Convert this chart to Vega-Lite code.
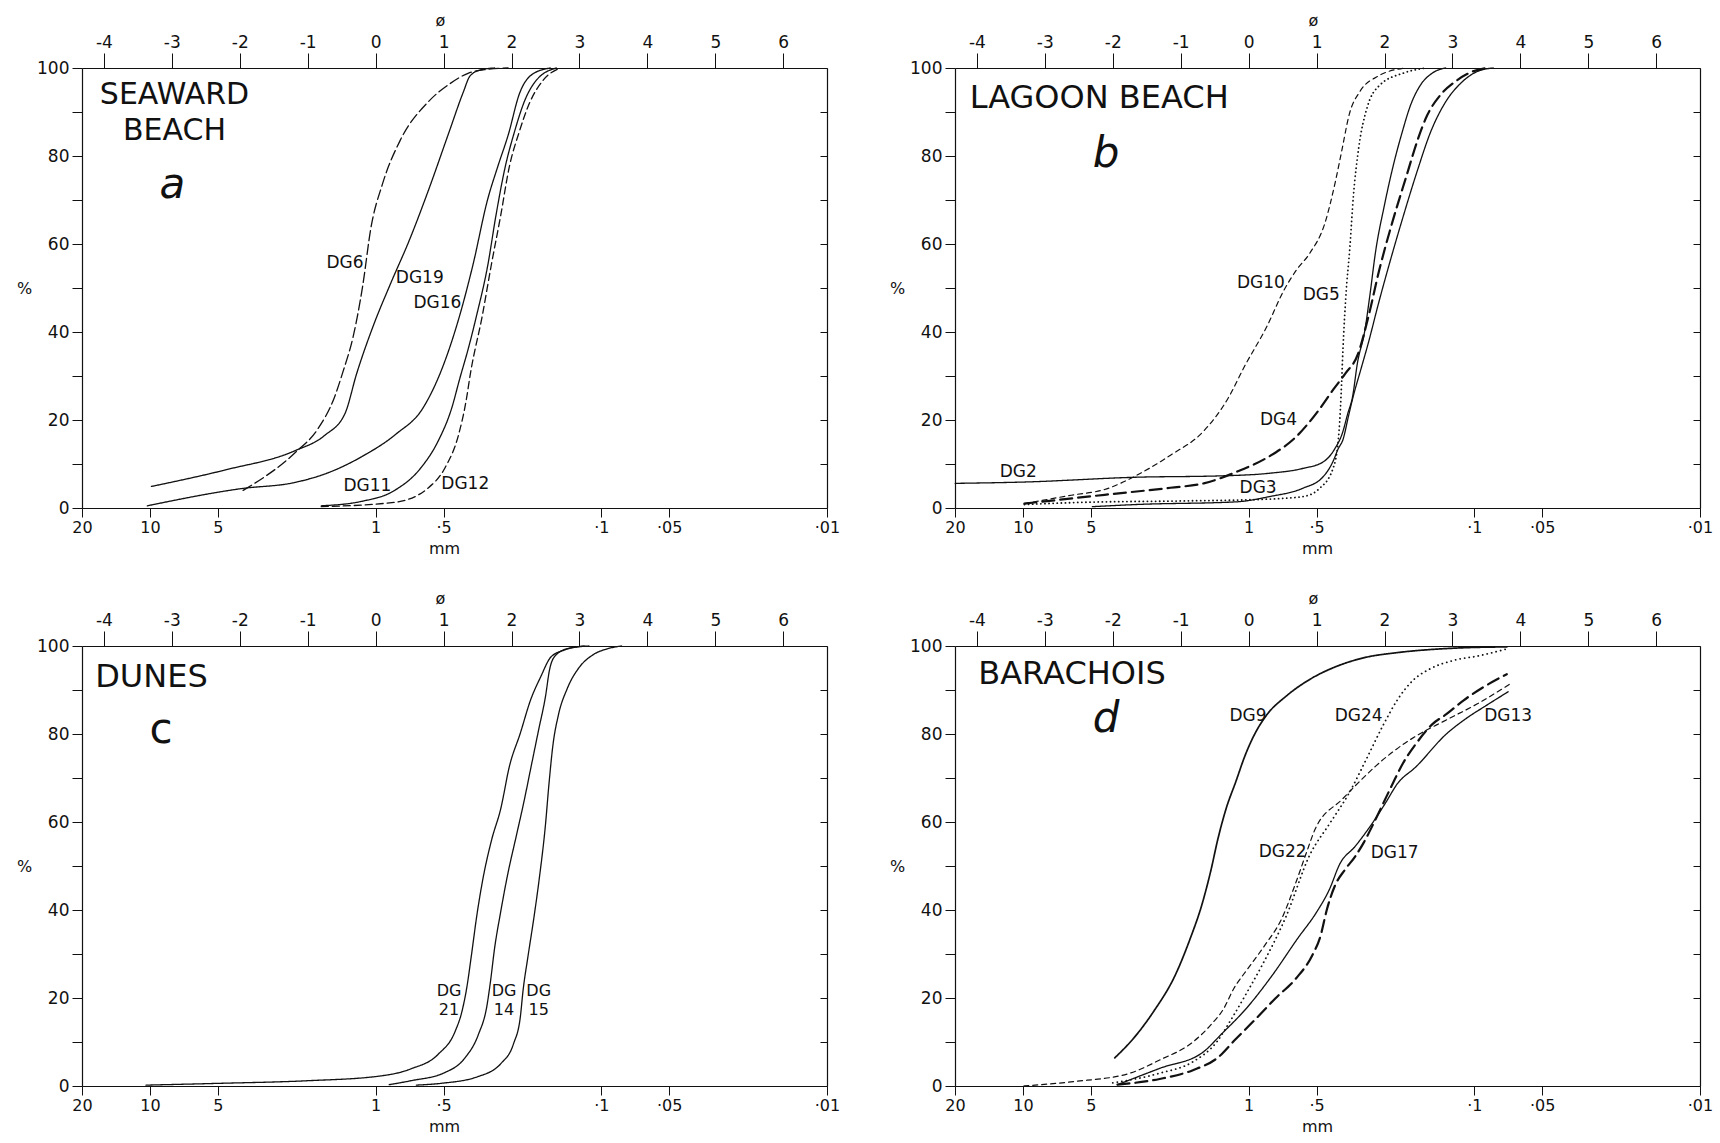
{
"$schema": "https://vega.github.io/schema/vega-lite/v6.json",
"background": "white",
"padding": {"left": 16, "top": 12, "right": 0, "bottom": 0},
"datasets": {
"curves": [
{"p":"a","s":"DG6","phi":-1.95,"pct":4.0},{"p":"a","s":"DG6","phi":-1.19,"pct":12.5},{"p":"a","s":"DG6","phi":-0.85,"pct":18},{"p":"a","s":"DG6","phi":-0.61,"pct":25},{"p":"a","s":"DG6","phi":-0.48,"pct":31},{"p":"a","s":"DG6","phi":-0.33,"pct":39},{"p":"a","s":"DG6","phi":-0.19,"pct":50.5},{"p":"a","s":"DG6","phi":-0.07,"pct":63.6},{"p":"a","s":"DG6","phi":0.10,"pct":73.6},{"p":"a","s":"DG6","phi":0.36,"pct":83.5},{"p":"a","s":"DG6","phi":0.78,"pct":92.4},{"p":"a","s":"DG6","phi":1.1,"pct":96.5},{"p":"a","s":"DG6","phi":1.36,"pct":98.8},{"p":"a","s":"DG6","phi":1.65,"pct":99.7},{"p":"a","s":"DG6","phi":1.95,"pct":100},
{"p":"a","s":"DG19","phi":-3.30,"pct":4.9},{"p":"a","s":"DG19","phi":-2.2,"pct":8.7},{"p":"a","s":"DG19","phi":-1.19,"pct":13.0},{"p":"a","s":"DG19","phi":-0.75,"pct":16.5},{"p":"a","s":"DG19","phi":-0.45,"pct":21.5},{"p":"a","s":"DG19","phi":-0.28,"pct":30.5},{"p":"a","s":"DG19","phi":-0.02,"pct":42},{"p":"a","s":"DG19","phi":0.22,"pct":51},{"p":"a","s":"DG19","phi":0.50,"pct":61},{"p":"a","s":"DG19","phi":0.77,"pct":71.9},{"p":"a","s":"DG19","phi":1.08,"pct":85.4},{"p":"a","s":"DG19","phi":1.29,"pct":94.5},{"p":"a","s":"DG19","phi":1.39,"pct":98.2},{"p":"a","s":"DG19","phi":1.55,"pct":99.6},{"p":"a","s":"DG19","phi":1.75,"pct":100},
{"p":"a","s":"DG16","phi":-3.36,"pct":0.5},{"p":"a","s":"DG16","phi":-1.98,"pct":4.4},{"p":"a","s":"DG16","phi":-1.19,"pct":5.8},{"p":"a","s":"DG16","phi":-0.70,"pct":8.0},{"p":"a","s":"DG16","phi":-0.20,"pct":11.7},{"p":"a","s":"DG16","phi":0.30,"pct":16.8},{"p":"a","s":"DG16","phi":0.70,"pct":22.8},{"p":"a","s":"DG16","phi":0.96,"pct":31},{"p":"a","s":"DG16","phi":1.24,"pct":43.9},{"p":"a","s":"DG16","phi":1.43,"pct":55.1},{"p":"a","s":"DG16","phi":1.65,"pct":70.2},{"p":"a","s":"DG16","phi":1.80,"pct":77.7},{"p":"a","s":"DG16","phi":1.95,"pct":84.7},{"p":"a","s":"DG16","phi":2.12,"pct":94.3},{"p":"a","s":"DG16","phi":2.3,"pct":98.5},{"p":"a","s":"DG16","phi":2.57,"pct":100},
{"p":"a","s":"DG11","phi":-0.80,"pct":0.5},{"p":"a","s":"DG11","phi":-0.21,"pct":1.5},{"p":"a","s":"DG11","phi":0.28,"pct":4.0},{"p":"a","s":"DG11","phi":0.67,"pct":9.2},{"p":"a","s":"DG11","phi":0.92,"pct":15.2},{"p":"a","s":"DG11","phi":1.12,"pct":22.7},{"p":"a","s":"DG11","phi":1.24,"pct":29.5},{"p":"a","s":"DG11","phi":1.36,"pct":36},{"p":"a","s":"DG11","phi":1.49,"pct":44},{"p":"a","s":"DG11","phi":1.65,"pct":55.1},{"p":"a","s":"DG11","phi":1.77,"pct":66.4},{"p":"a","s":"DG11","phi":1.91,"pct":77.7},{"p":"a","s":"DG11","phi":2.04,"pct":85.3},{"p":"a","s":"DG11","phi":2.2,"pct":92.8},{"p":"a","s":"DG11","phi":2.37,"pct":97.3},{"p":"a","s":"DG11","phi":2.66,"pct":100},
{"p":"a","s":"DG12","phi":-0.80,"pct":0.3},{"p":"a","s":"DG12","phi":0.28,"pct":1.3},{"p":"a","s":"DG12","phi":0.77,"pct":4.5},{"p":"a","s":"DG12","phi":1.02,"pct":9.1},{"p":"a","s":"DG12","phi":1.22,"pct":16.6},{"p":"a","s":"DG12","phi":1.33,"pct":24.2},{"p":"a","s":"DG12","phi":1.40,"pct":31},{"p":"a","s":"DG12","phi":1.57,"pct":43.7},{"p":"a","s":"DG12","phi":1.70,"pct":55},{"p":"a","s":"DG12","phi":1.84,"pct":66.4},{"p":"a","s":"DG12","phi":1.97,"pct":77.7},{"p":"a","s":"DG12","phi":2.11,"pct":85.3},{"p":"a","s":"DG12","phi":2.27,"pct":92.2},{"p":"a","s":"DG12","phi":2.47,"pct":97.3},{"p":"a","s":"DG12","phi":2.72,"pct":100},
{"p":"b","s":"DG2","phi":-4.32,"pct":5.6},{"p":"b","s":"DG2","phi":-3.31,"pct":5.9},{"p":"b","s":"DG2","phi":-1.64,"pct":7.0},{"p":"b","s":"DG2","phi":-0.42,"pct":7.3},{"p":"b","s":"DG2","phi":0.31,"pct":7.9},{"p":"b","s":"DG2","phi":0.80,"pct":9.0},{"p":"b","s":"DG2","phi":1.10,"pct":10.5},{"p":"b","s":"DG2","phi":1.27,"pct":13.5},{"p":"b","s":"DG2","phi":1.38,"pct":17},{"p":"b","s":"DG2","phi":1.46,"pct":21.5},{"p":"b","s":"DG2","phi":1.53,"pct":25.3},{"p":"b","s":"DG2","phi":1.60,"pct":32.8},{"p":"b","s":"DG2","phi":1.71,"pct":40.3},{"p":"b","s":"DG2","phi":1.78,"pct":47.8},{"p":"b","s":"DG2","phi":1.87,"pct":58.4},{"p":"b","s":"DG2","phi":2.0,"pct":68.9},{"p":"b","s":"DG2","phi":2.13,"pct":77.9},{"p":"b","s":"DG2","phi":2.26,"pct":85.4},{"p":"b","s":"DG2","phi":2.38,"pct":91.4},{"p":"b","s":"DG2","phi":2.52,"pct":95.9},{"p":"b","s":"DG2","phi":2.70,"pct":98.8},{"p":"b","s":"DG2","phi":2.9,"pct":100},
{"p":"b","s":"DG3","phi":-2.3,"pct":0.3},{"p":"b","s":"DG3","phi":-1.64,"pct":0.8},{"p":"b","s":"DG3","phi":-0.18,"pct":1.4},{"p":"b","s":"DG3","phi":0.31,"pct":2.6},{"p":"b","s":"DG3","phi":0.80,"pct":4.5},{"p":"b","s":"DG3","phi":1.09,"pct":7.0},{"p":"b","s":"DG3","phi":1.24,"pct":10.5},{"p":"b","s":"DG3","phi":1.32,"pct":13.5},{"p":"b","s":"DG3","phi":1.39,"pct":15.6},{"p":"b","s":"DG3","phi":1.47,"pct":20.9},{"p":"b","s":"DG3","phi":1.54,"pct":25.4},{"p":"b","s":"DG3","phi":1.65,"pct":31.4},{"p":"b","s":"DG3","phi":1.76,"pct":37.4},{"p":"b","s":"DG3","phi":1.91,"pct":46.4},{"p":"b","s":"DG3","phi":2.07,"pct":55.4},{"p":"b","s":"DG3","phi":2.27,"pct":66.0},{"p":"b","s":"DG3","phi":2.48,"pct":76.5},{"p":"b","s":"DG3","phi":2.68,"pct":85.5},{"p":"b","s":"DG3","phi":2.90,"pct":92.3},{"p":"b","s":"DG3","phi":3.14,"pct":96.8},{"p":"b","s":"DG3","phi":3.38,"pct":99.3},{"p":"b","s":"DG3","phi":3.6,"pct":100},
{"p":"b","s":"DG4","phi":-3.3,"pct":1.0},{"p":"b","s":"DG4","phi":-2.12,"pct":3.0},{"p":"b","s":"DG4","phi":-1.15,"pct":4.6},{"p":"b","s":"DG4","phi":-0.66,"pct":5.6},{"p":"b","s":"DG4","phi":-0.18,"pct":8.2},{"p":"b","s":"DG4","phi":0.31,"pct":11.8},{"p":"b","s":"DG4","phi":0.70,"pct":16.2},{"p":"b","s":"DG4","phi":1.02,"pct":22},{"p":"b","s":"DG4","phi":1.25,"pct":27},{"p":"b","s":"DG4","phi":1.42,"pct":30.5},{"p":"b","s":"DG4","phi":1.61,"pct":35},{"p":"b","s":"DG4","phi":1.76,"pct":43.3},{"p":"b","s":"DG4","phi":1.92,"pct":53.9},{"p":"b","s":"DG4","phi":2.12,"pct":65.2},{"p":"b","s":"DG4","phi":2.33,"pct":75.8},{"p":"b","s":"DG4","phi":2.48,"pct":83.3},{"p":"b","s":"DG4","phi":2.63,"pct":89.3},{"p":"b","s":"DG4","phi":2.82,"pct":93.8},{"p":"b","s":"DG4","phi":3.04,"pct":96.9},{"p":"b","s":"DG4","phi":3.28,"pct":99.1},{"p":"b","s":"DG4","phi":3.5,"pct":100},
{"p":"b","s":"DG10","phi":-3.3,"pct":1.0},{"p":"b","s":"DG10","phi":-2.61,"pct":2.9},{"p":"b","s":"DG10","phi":-2.12,"pct":4.2},{"p":"b","s":"DG10","phi":-1.64,"pct":7.5},{"p":"b","s":"DG10","phi":-1.15,"pct":12.0},{"p":"b","s":"DG10","phi":-0.66,"pct":17.5},{"p":"b","s":"DG10","phi":-0.3,"pct":25},{"p":"b","s":"DG10","phi":-0.06,"pct":32.2},{"p":"b","s":"DG10","phi":0.27,"pct":41.3},{"p":"b","s":"DG10","phi":0.52,"pct":49.5},{"p":"b","s":"DG10","phi":0.70,"pct":54},{"p":"b","s":"DG10","phi":0.90,"pct":57.9},{"p":"b","s":"DG10","phi":1.12,"pct":64.6},{"p":"b","s":"DG10","phi":1.28,"pct":74.4},{"p":"b","s":"DG10","phi":1.38,"pct":81.9},{"p":"b","s":"DG10","phi":1.48,"pct":89.4},{"p":"b","s":"DG10","phi":1.64,"pct":94.7},{"p":"b","s":"DG10","phi":1.90,"pct":98.1},{"p":"b","s":"DG10","phi":2.3,"pct":100},
{"p":"b","s":"DG5","phi":-3.3,"pct":0.8},{"p":"b","s":"DG5","phi":-2.42,"pct":1.3},{"p":"b","s":"DG5","phi":-1.0,"pct":1.6},{"p":"b","s":"DG5","phi":0.26,"pct":2.0},{"p":"b","s":"DG5","phi":0.80,"pct":2.6},{"p":"b","s":"DG5","phi":1.04,"pct":4.4},{"p":"b","s":"DG5","phi":1.24,"pct":8.9},{"p":"b","s":"DG5","phi":1.32,"pct":15.5},{"p":"b","s":"DG5","phi":1.36,"pct":25.3},{"p":"b","s":"DG5","phi":1.39,"pct":36.6},{"p":"b","s":"DG5","phi":1.43,"pct":47.9},{"p":"b","s":"DG5","phi":1.49,"pct":59.2},{"p":"b","s":"DG5","phi":1.54,"pct":70.5},{"p":"b","s":"DG5","phi":1.62,"pct":81.8},{"p":"b","s":"DG5","phi":1.74,"pct":90.8},{"p":"b","s":"DG5","phi":1.93,"pct":96.1},{"p":"b","s":"DG5","phi":2.27,"pct":98.8},{"p":"b","s":"DG5","phi":2.6,"pct":100},
{"p":"c","s":"DG21","phi":-3.38,"pct":0.2},{"p":"c","s":"DG21","phi":-2.32,"pct":0.6},{"p":"c","s":"DG21","phi":-1.0,"pct":1.2},{"p":"c","s":"DG21","phi":0.03,"pct":2.2},{"p":"c","s":"DG21","phi":0.52,"pct":3.9},{"p":"c","s":"DG21","phi":0.92,"pct":7.2},{"p":"c","s":"DG21","phi":1.17,"pct":12.4},{"p":"c","s":"DG21","phi":1.27,"pct":16.9},{"p":"c","s":"DG21","phi":1.34,"pct":22.2},{"p":"c","s":"DG21","phi":1.41,"pct":29.7},{"p":"c","s":"DG21","phi":1.49,"pct":38.8},{"p":"c","s":"DG21","phi":1.57,"pct":46.3},{"p":"c","s":"DG21","phi":1.71,"pct":56.1},{"p":"c","s":"DG21","phi":1.84,"pct":62.9},{"p":"c","s":"DG21","phi":1.97,"pct":72.7},{"p":"c","s":"DG21","phi":2.13,"pct":80.2},{"p":"c","s":"DG21","phi":2.28,"pct":87.7},{"p":"c","s":"DG21","phi":2.43,"pct":93.0},{"p":"c","s":"DG21","phi":2.58,"pct":97.5},{"p":"c","s":"DG21","phi":2.78,"pct":99.1},{"p":"c","s":"DG21","phi":3.07,"pct":100},
{"p":"c","s":"DG14","phi":0.2,"pct":0.3},{"p":"c","s":"DG14","phi":0.52,"pct":1.2},{"p":"c","s":"DG14","phi":1.01,"pct":3.0},{"p":"c","s":"DG14","phi":1.31,"pct":6.3},{"p":"c","s":"DG14","phi":1.51,"pct":11.6},{"p":"c","s":"DG14","phi":1.64,"pct":18.4},{"p":"c","s":"DG14","phi":1.69,"pct":23.7},{"p":"c","s":"DG14","phi":1.75,"pct":31.2},{"p":"c","s":"DG14","phi":1.84,"pct":39.5},{"p":"c","s":"DG14","phi":1.94,"pct":47.8},{"p":"c","s":"DG14","phi":2.07,"pct":56.8},{"p":"c","s":"DG14","phi":2.18,"pct":64.4},{"p":"c","s":"DG14","phi":2.29,"pct":72.7},{"p":"c","s":"DG14","phi":2.40,"pct":81.0},{"p":"c","s":"DG14","phi":2.50,"pct":88.5},{"p":"c","s":"DG14","phi":2.56,"pct":94.6},{"p":"c","s":"DG14","phi":2.65,"pct":97.9},{"p":"c","s":"DG14","phi":2.85,"pct":99.5},{"p":"c","s":"DG14","phi":3.14,"pct":100},
{"p":"c","s":"DG15","phi":0.6,"pct":0.2},{"p":"c","s":"DG15","phi":0.96,"pct":0.6},{"p":"c","s":"DG15","phi":1.50,"pct":2.1},{"p":"c","s":"DG15","phi":1.85,"pct":5.2},{"p":"c","s":"DG15","phi":2.03,"pct":9.6},{"p":"c","s":"DG15","phi":2.13,"pct":15.7},{"p":"c","s":"DG15","phi":2.17,"pct":21.7},{"p":"c","s":"DG15","phi":2.24,"pct":29.2},{"p":"c","s":"DG15","phi":2.33,"pct":38.3},{"p":"c","s":"DG15","phi":2.41,"pct":47.3},{"p":"c","s":"DG15","phi":2.50,"pct":59.4},{"p":"c","s":"DG15","phi":2.55,"pct":68.4},{"p":"c","s":"DG15","phi":2.61,"pct":77.5},{"p":"c","s":"DG15","phi":2.69,"pct":84.3},{"p":"c","s":"DG15","phi":2.82,"pct":90.3},{"p":"c","s":"DG15","phi":3.0,"pct":95.2},{"p":"c","s":"DG15","phi":3.2,"pct":98.0},{"p":"c","s":"DG15","phi":3.42,"pct":99.4},{"p":"c","s":"DG15","phi":3.62,"pct":100},
{"p":"d","s":"DG9","phi":-1.97,"pct":6.4},{"p":"d","s":"DG9","phi":-1.69,"pct":10.9},{"p":"d","s":"DG9","phi":-1.40,"pct":16.9},{"p":"d","s":"DG9","phi":-1.08,"pct":25.2},{"p":"d","s":"DG9","phi":-0.86,"pct":33.5},{"p":"d","s":"DG9","phi":-0.69,"pct":41.1},{"p":"d","s":"DG9","phi":-0.56,"pct":48.7},{"p":"d","s":"DG9","phi":-0.45,"pct":56.3},{"p":"d","s":"DG9","phi":-0.33,"pct":63.1},{"p":"d","s":"DG9","phi":-0.19,"pct":69.1},{"p":"d","s":"DG9","phi":-0.05,"pct":75.2},{"p":"d","s":"DG9","phi":0.08,"pct":79.7},{"p":"d","s":"DG9","phi":0.26,"pct":84.2},{"p":"d","s":"DG9","phi":0.56,"pct":88.7},{"p":"d","s":"DG9","phi":0.91,"pct":92.5},{"p":"d","s":"DG9","phi":1.30,"pct":95.4},{"p":"d","s":"DG9","phi":1.69,"pct":97.3},{"p":"d","s":"DG9","phi":2.19,"pct":98.5},{"p":"d","s":"DG9","phi":2.68,"pct":99.2},{"p":"d","s":"DG9","phi":3.17,"pct":99.6},{"p":"d","s":"DG9","phi":3.8,"pct":99.8},
{"p":"d","s":"DG24","phi":-2.0,"pct":0.7},{"p":"d","s":"DG24","phi":-1.31,"pct":2.9},{"p":"d","s":"DG24","phi":-0.82,"pct":5.5},{"p":"d","s":"DG24","phi":-0.47,"pct":10.0},{"p":"d","s":"DG24","phi":-0.25,"pct":15.3},{"p":"d","s":"DG24","phi":-0.02,"pct":21.4},{"p":"d","s":"DG24","phi":0.2,"pct":27.5},{"p":"d","s":"DG24","phi":0.55,"pct":38.5},{"p":"d","s":"DG24","phi":0.9,"pct":52.5},{"p":"d","s":"DG24","phi":1.2,"pct":59.8},{"p":"d","s":"DG24","phi":1.48,"pct":66.6},{"p":"d","s":"DG24","phi":1.73,"pct":74.2},{"p":"d","s":"DG24","phi":1.98,"pct":82},{"p":"d","s":"DG24","phi":2.2,"pct":88},{"p":"d","s":"DG24","phi":2.42,"pct":92.2},{"p":"d","s":"DG24","phi":2.67,"pct":94.8},{"p":"d","s":"DG24","phi":3.01,"pct":96.7},{"p":"d","s":"DG24","phi":3.40,"pct":97.8},{"p":"d","s":"DG24","phi":3.79,"pct":99.3},
{"p":"d","s":"DG22","phi":-3.31,"pct":0},{"p":"d","s":"DG22","phi":-2.58,"pct":1.0},{"p":"d","s":"DG22","phi":-1.77,"pct":2.8},{"p":"d","s":"DG22","phi":-1.31,"pct":5.9},{"p":"d","s":"DG22","phi":-0.82,"pct":10.0},{"p":"d","s":"DG22","phi":-0.55,"pct":14},{"p":"d","s":"DG22","phi":-0.37,"pct":17.5},{"p":"d","s":"DG22","phi":-0.22,"pct":22.1},{"p":"d","s":"DG22","phi":-0.02,"pct":26.5},{"p":"d","s":"DG22","phi":0.24,"pct":32},{"p":"d","s":"DG22","phi":0.48,"pct":37.8},{"p":"d","s":"DG22","phi":0.69,"pct":46},{"p":"d","s":"DG22","phi":0.85,"pct":53},{"p":"d","s":"DG22","phi":0.98,"pct":58.4},{"p":"d","s":"DG22","phi":1.38,"pct":65.2},{"p":"d","s":"DG22","phi":1.62,"pct":69.0},{"p":"d","s":"DG22","phi":1.87,"pct":72.7},{"p":"d","s":"DG22","phi":2.17,"pct":76.5},{"p":"d","s":"DG22","phi":2.46,"pct":79.5},{"p":"d","s":"DG22","phi":2.91,"pct":83.2},{"p":"d","s":"DG22","phi":3.36,"pct":86.8},{"p":"d","s":"DG22","phi":3.84,"pct":91.3},
{"p":"d","s":"DG17","phi":-1.93,"pct":0.3},{"p":"d","s":"DG17","phi":-1.31,"pct":1.6},{"p":"d","s":"DG17","phi":-0.82,"pct":3.6},{"p":"d","s":"DG17","phi":-0.45,"pct":6.5},{"p":"d","s":"DG17","phi":-0.2,"pct":10.5},{"p":"d","s":"DG17","phi":0.07,"pct":14.7},{"p":"d","s":"DG17","phi":0.4,"pct":20},{"p":"d","s":"DG17","phi":0.7,"pct":24.5},{"p":"d","s":"DG17","phi":0.93,"pct":29.5},{"p":"d","s":"DG17","phi":1.06,"pct":34.2},{"p":"d","s":"DG17","phi":1.15,"pct":40},{"p":"d","s":"DG17","phi":1.27,"pct":45.5},{"p":"d","s":"DG17","phi":1.42,"pct":49.2},{"p":"d","s":"DG17","phi":1.57,"pct":52.2},{"p":"d","s":"DG17","phi":1.69,"pct":55.2},{"p":"d","s":"DG17","phi":1.84,"pct":59.7},{"p":"d","s":"DG17","phi":1.98,"pct":64.2},{"p":"d","s":"DG17","phi":2.12,"pct":68.7},{"p":"d","s":"DG17","phi":2.27,"pct":73.3},{"p":"d","s":"DG17","phi":2.46,"pct":77.7},{"p":"d","s":"DG17","phi":2.71,"pct":82.3},{"p":"d","s":"DG17","phi":2.91,"pct":84.5},{"p":"d","s":"DG17","phi":3.16,"pct":87.6},{"p":"d","s":"DG17","phi":3.45,"pct":90.6},{"p":"d","s":"DG17","phi":3.8,"pct":93.6},
{"p":"d","s":"DG13","phi":-1.93,"pct":0.3},{"p":"d","s":"DG13","phi":-1.31,"pct":4.0},{"p":"d","s":"DG13","phi":-0.67,"pct":7.7},{"p":"d","s":"DG13","phi":-0.40,"pct":11.8},{"p":"d","s":"DG13","phi":-0.03,"pct":17.7},{"p":"d","s":"DG13","phi":0.35,"pct":25.2},{"p":"d","s":"DG13","phi":0.72,"pct":33.5},{"p":"d","s":"DG13","phi":1.0,"pct":39.5},{"p":"d","s":"DG13","phi":1.19,"pct":44.7},{"p":"d","s":"DG13","phi":1.34,"pct":50.4},{"p":"d","s":"DG13","phi":1.57,"pct":54.5},{"p":"d","s":"DG13","phi":1.82,"pct":59.7},{"p":"d","s":"DG13","phi":2.01,"pct":64.2},{"p":"d","s":"DG13","phi":2.19,"pct":68.7},{"p":"d","s":"DG13","phi":2.46,"pct":72.5},{"p":"d","s":"DG13","phi":2.91,"pct":80},{"p":"d","s":"DG13","phi":3.2,"pct":83.5},{"p":"d","s":"DG13","phi":3.5,"pct":86.5},{"p":"d","s":"DG13","phi":3.82,"pct":89.6}
],
"labels": [
{"p":"a","k":"title","t":"SEAWARD\nBEACH","phi":-2.96,"pct":93.8},{"p":"a","k":"letter","t":"a","phi":-2.99,"pct":73.5},
{"p":"a","k":"lab","t":"DG6","phi":-0.45,"pct":55.6},{"p":"a","k":"lab","t":"DG19","phi":0.65,"pct":52.3},{"p":"a","k":"lab","t":"DG16","phi":0.91,"pct":46.6},{"p":"a","k":"lab","t":"DG11","phi":-0.12,"pct":5.0},{"p":"a","k":"lab","t":"DG12","phi":1.32,"pct":5.5},
{"p":"b","k":"title","t":"LAGOON BEACH","phi":-2.2,"pct":93.2},{"p":"b","k":"letter","t":"b","phi":-2.1,"pct":80.5},
{"p":"b","k":"lab","t":"DG2","phi":-3.39,"pct":8.1},{"p":"b","k":"lab","t":"DG10","phi":0.18,"pct":51.2},{"p":"b","k":"lab","t":"DG5","phi":1.07,"pct":48.4},{"p":"b","k":"lab","t":"DG4","phi":0.44,"pct":20},{"p":"b","k":"lab","t":"DG3","phi":0.14,"pct":4.6},
{"p":"c","k":"title","t":"DUNES","phi":-3.3,"pct":93},{"p":"c","k":"letterc","t":"c","phi":-3.16,"pct":81},
{"p":"c","k":"lab","t":"DG\n21","phi":1.08,"pct":21.5},{"p":"c","k":"lab","t":"DG\n14","phi":1.89,"pct":21.5},{"p":"c","k":"lab","t":"DG\n15","phi":2.40,"pct":21.5},
{"p":"d","k":"title","t":"BARACHOIS","phi":-2.6,"pct":93.6},{"p":"d","k":"letter","t":"d","phi":-2.1,"pct":83.5},
{"p":"d","k":"lab","t":"DG9","phi":-0.01,"pct":84.2},{"p":"d","k":"lab","t":"DG24","phi":1.62,"pct":84.2},{"p":"d","k":"lab","t":"DG13","phi":3.82,"pct":84.1},{"p":"d","k":"lab","t":"DG22","phi":0.50,"pct":53.2},{"p":"d","k":"lab","t":"DG17","phi":2.15,"pct":53}
]
},
"vconcat": [
{"hconcat": [
{"width": 745, "height": 440,
 "layer": [
  {"data": {"name": "curves"}, "transform": [{"filter": "datum.p === 'a'"}],
   "mark": {"type": "line", "interpolate": "monotone", "strokeCap": "round", "color": "#111"},
   "encoding": {
    "x": {"field": "phi", "type": "quantitative", "scale": {"domain": [-4.321928, 6.643856], "nice": false, "zero": false},
     "axis": {"orient": "bottom", "values": [-4.321928, -3.321928, -2.321928, 0, 1, 3.321928, 4.321928, 6.643856], "labelExpr": "datum.value < -4 ? '20' : datum.value < -3 ? '10' : datum.value < -2 ? '5' : datum.value < 0.5 ? '1' : datum.value < 2 ? '·5' : datum.value < 4 ? '·1' : datum.value < 5 ? '·05' : '·01'", "title": "mm", "titleX": 362, "titleY": 40, "titleAlign": "center", "titleBaseline": "middle", "tickSize": 9, "labelPadding": 2, "labelFontSize": 16, "labelFlush": false, "labelOverlap": false, "grid": false}},
    "y": {"field": "pct", "type": "quantitative", "scale": {"domain": [0, 100], "nice": false},
     "axis": {"orient": "left", "values": [0,10,20,30,40,50,60,70,80,90,100], "labelExpr": "datum.value % 20 === 0 ? datum.label : ''", "title": "%", "titleAngle": 0, "titleX": -58, "titleY": 220, "titleAlign": "center", "titleBaseline": "middle", "tickSize": 10, "labelPadding": 3, "grid": false}},
    "strokeDash": {"field": "s", "type": "nominal", "legend": null, "scale": {"domain": ["DG2","DG3","DG4","DG5","DG6","DG9","DG10","DG11","DG12","DG13","DG14","DG15","DG16","DG17","DG19","DG21","DG22","DG24"], "range": [[1,0],[1,0],[12,6],[0.1,4],[10,4],[1,0],[5,4],[1,0],[7,4],[1,0],[1,0],[1,0],[1,0],[12,6],[1,0],[1,0],[5,4],[0.1,4.5]]}},
    "strokeWidth": {"field": "s", "type": "nominal", "legend": null, "scale": {"type": "ordinal", "domain": ["DG2","DG3","DG4","DG5","DG6","DG9","DG10","DG11","DG12","DG13","DG14","DG15","DG16","DG17","DG19","DG21","DG22","DG24"], "range": [1.3,1.3,2.2,1.8,1.3,1.7,1.2,1.3,1.3,1.3,1.3,1.3,1.3,2.2,1.3,1.3,1.2,1.8]}}
   }},
  {"data": {"name": "labels"}, "transform": [{"filter": "datum.p === 'a' && datum.k === 'title'"}],
   "mark": {"type": "text", "font": "DejaVu Sans", "fontSize": 30, "color": "#111", "lineBreak": "\n", "lineHeight": 36},
   "encoding": {
    "x": {"field": "phi", "type": "quantitative", "scale": {"domain": [-4.321928, 6.643856], "nice": false, "zero": false},
     "axis": {"orient": "top", "values": [-4,-3,-2,-1,0,1,2,3,4,5,6], "labelExpr": "datum.value < 0 ? '-' + abs(datum.value) : '' + datum.value", "title": "ø", "titleX": 358, "titleY": -48, "titleAlign": "center", "titleBaseline": "middle", "tickSize": 15, "labelPadding": 2, "labelFlush": false, "labelOverlap": false, "grid": false}},
    "y": {"field": "pct", "type": "quantitative", "scale": {"domain": [0, 100], "nice": false},
     "axis": {"orient": "right", "values": [0,10,20,30,40,50,60,70,80,90,100], "labels": false, "tickSize": -7, "title": null, "grid": false}},
    "text": {"field": "t"}
   }},
  {"data": {"name": "labels"}, "transform": [{"filter": "datum.p === 'a' && datum.k === 'letter'"}],
   "mark": {"type": "text", "font": "DejaVu Sans", "fontSize": 42, "fontStyle": "italic", "color": "#111"},
   "encoding": {"x": {"field": "phi", "type": "quantitative", "axis": null}, "y": {"field": "pct", "type": "quantitative", "axis": null}, "text": {"field": "t"}}},
  {"data": {"name": "labels"}, "transform": [{"filter": "datum.p === 'a' && datum.k === 'lab'"}],
   "mark": {"type": "text", "font": "DejaVu Sans", "fontSize": 17, "color": "#111"},
   "encoding": {"x": {"field": "phi", "type": "quantitative", "axis": null}, "y": {"field": "pct", "type": "quantitative", "axis": null}, "text": {"field": "t"}}}
 ],
 "resolve": {"axis": {"x": "independent", "y": "independent"}}
},
{"width": 745, "height": 440,
 "layer": [
  {"data": {"name": "curves"}, "transform": [{"filter": "datum.p === 'b'"}],
   "mark": {"type": "line", "interpolate": "monotone", "strokeCap": "round", "color": "#111"},
   "encoding": {
    "x": {"field": "phi", "type": "quantitative", "scale": {"domain": [-4.321928, 6.643856], "nice": false, "zero": false},
     "axis": {"orient": "bottom", "values": [-4.321928, -3.321928, -2.321928, 0, 1, 3.321928, 4.321928, 6.643856], "labelExpr": "datum.value < -4 ? '20' : datum.value < -3 ? '10' : datum.value < -2 ? '5' : datum.value < 0.5 ? '1' : datum.value < 2 ? '·5' : datum.value < 4 ? '·1' : datum.value < 5 ? '·05' : '·01'", "title": "mm", "titleX": 362, "titleY": 40, "titleAlign": "center", "titleBaseline": "middle", "tickSize": 9, "labelPadding": 2, "labelFontSize": 16, "labelFlush": false, "labelOverlap": false, "grid": false}},
    "y": {"field": "pct", "type": "quantitative", "scale": {"domain": [0, 100], "nice": false},
     "axis": {"orient": "left", "values": [0,10,20,30,40,50,60,70,80,90,100], "labelExpr": "datum.value % 20 === 0 ? datum.label : ''", "title": "%", "titleAngle": 0, "titleX": -58, "titleY": 220, "titleAlign": "center", "titleBaseline": "middle", "tickSize": 10, "labelPadding": 3, "grid": false}},
    "strokeDash": {"field": "s", "type": "nominal", "legend": null, "scale": {"domain": ["DG2","DG3","DG4","DG5","DG6","DG9","DG10","DG11","DG12","DG13","DG14","DG15","DG16","DG17","DG19","DG21","DG22","DG24"], "range": [[1,0],[1,0],[12,6],[0.1,4],[10,4],[1,0],[5,4],[1,0],[7,4],[1,0],[1,0],[1,0],[1,0],[12,6],[1,0],[1,0],[5,4],[0.1,4.5]]}},
    "strokeWidth": {"field": "s", "type": "nominal", "legend": null, "scale": {"type": "ordinal", "domain": ["DG2","DG3","DG4","DG5","DG6","DG9","DG10","DG11","DG12","DG13","DG14","DG15","DG16","DG17","DG19","DG21","DG22","DG24"], "range": [1.3,1.3,2.2,1.8,1.3,1.7,1.2,1.3,1.3,1.3,1.3,1.3,1.3,2.2,1.3,1.3,1.2,1.8]}}
   }},
  {"data": {"name": "labels"}, "transform": [{"filter": "datum.p === 'b' && datum.k === 'title'"}],
   "mark": {"type": "text", "font": "DejaVu Sans", "fontSize": 32, "color": "#111"},
   "encoding": {
    "x": {"field": "phi", "type": "quantitative", "scale": {"domain": [-4.321928, 6.643856], "nice": false, "zero": false},
     "axis": {"orient": "top", "values": [-4,-3,-2,-1,0,1,2,3,4,5,6], "labelExpr": "datum.value < 0 ? '-' + abs(datum.value) : '' + datum.value", "title": "ø", "titleX": 358, "titleY": -48, "titleAlign": "center", "titleBaseline": "middle", "tickSize": 15, "labelPadding": 2, "labelFlush": false, "labelOverlap": false, "grid": false}},
    "y": {"field": "pct", "type": "quantitative", "scale": {"domain": [0, 100], "nice": false},
     "axis": {"orient": "right", "values": [0,10,20,30,40,50,60,70,80,90,100], "labels": false, "tickSize": -7, "title": null, "grid": false}},
    "text": {"field": "t"}
   }},
  {"data": {"name": "labels"}, "transform": [{"filter": "datum.p === 'b' && datum.k === 'letter'"}],
   "mark": {"type": "text", "font": "DejaVu Sans", "fontSize": 42, "fontStyle": "italic", "color": "#111"},
   "encoding": {"x": {"field": "phi", "type": "quantitative", "axis": null}, "y": {"field": "pct", "type": "quantitative", "axis": null}, "text": {"field": "t"}}},
  {"data": {"name": "labels"}, "transform": [{"filter": "datum.p === 'b' && datum.k === 'lab'"}],
   "mark": {"type": "text", "font": "DejaVu Sans", "fontSize": 17, "color": "#111"},
   "encoding": {"x": {"field": "phi", "type": "quantitative", "axis": null}, "y": {"field": "pct", "type": "quantitative", "axis": null}, "text": {"field": "t"}}}
 ],
 "resolve": {"axis": {"x": "independent", "y": "independent"}}
}
], "spacing": 49},
{"hconcat": [
{"width": 745, "height": 440,
 "layer": [
  {"data": {"name": "curves"}, "transform": [{"filter": "datum.p === 'c'"}],
   "mark": {"type": "line", "interpolate": "monotone", "strokeCap": "round", "color": "#111"},
   "encoding": {
    "x": {"field": "phi", "type": "quantitative", "scale": {"domain": [-4.321928, 6.643856], "nice": false, "zero": false},
     "axis": {"orient": "bottom", "values": [-4.321928, -3.321928, -2.321928, 0, 1, 3.321928, 4.321928, 6.643856], "labelExpr": "datum.value < -4 ? '20' : datum.value < -3 ? '10' : datum.value < -2 ? '5' : datum.value < 0.5 ? '1' : datum.value < 2 ? '·5' : datum.value < 4 ? '·1' : datum.value < 5 ? '·05' : '·01'", "title": "mm", "titleX": 362, "titleY": 40, "titleAlign": "center", "titleBaseline": "middle", "tickSize": 9, "labelPadding": 2, "labelFontSize": 16, "labelFlush": false, "labelOverlap": false, "grid": false}},
    "y": {"field": "pct", "type": "quantitative", "scale": {"domain": [0, 100], "nice": false},
     "axis": {"orient": "left", "values": [0,10,20,30,40,50,60,70,80,90,100], "labelExpr": "datum.value % 20 === 0 ? datum.label : ''", "title": "%", "titleAngle": 0, "titleX": -58, "titleY": 220, "titleAlign": "center", "titleBaseline": "middle", "tickSize": 10, "labelPadding": 3, "grid": false}},
    "strokeDash": {"field": "s", "type": "nominal", "legend": null, "scale": {"domain": ["DG2","DG3","DG4","DG5","DG6","DG9","DG10","DG11","DG12","DG13","DG14","DG15","DG16","DG17","DG19","DG21","DG22","DG24"], "range": [[1,0],[1,0],[12,6],[0.1,4],[10,4],[1,0],[5,4],[1,0],[7,4],[1,0],[1,0],[1,0],[1,0],[12,6],[1,0],[1,0],[5,4],[0.1,4.5]]}},
    "strokeWidth": {"field": "s", "type": "nominal", "legend": null, "scale": {"type": "ordinal", "domain": ["DG2","DG3","DG4","DG5","DG6","DG9","DG10","DG11","DG12","DG13","DG14","DG15","DG16","DG17","DG19","DG21","DG22","DG24"], "range": [1.3,1.3,2.2,1.8,1.3,1.7,1.2,1.3,1.3,1.3,1.3,1.3,1.3,2.2,1.3,1.3,1.2,1.8]}}
   }},
  {"data": {"name": "labels"}, "transform": [{"filter": "datum.p === 'c' && datum.k === 'title'"}],
   "mark": {"type": "text", "font": "DejaVu Sans", "fontSize": 32, "color": "#111"},
   "encoding": {
    "x": {"field": "phi", "type": "quantitative", "scale": {"domain": [-4.321928, 6.643856], "nice": false, "zero": false},
     "axis": {"orient": "top", "values": [-4,-3,-2,-1,0,1,2,3,4,5,6], "labelExpr": "datum.value < 0 ? '-' + abs(datum.value) : '' + datum.value", "title": "ø", "titleX": 358, "titleY": -48, "titleAlign": "center", "titleBaseline": "middle", "tickSize": 15, "labelPadding": 2, "labelFlush": false, "labelOverlap": false, "grid": false}},
    "y": {"field": "pct", "type": "quantitative", "scale": {"domain": [0, 100], "nice": false},
     "axis": {"orient": "right", "values": [0,10,20,30,40,50,60,70,80,90,100], "labels": false, "tickSize": -7, "title": null, "grid": false}},
    "text": {"field": "t"}
   }},
  {"data": {"name": "labels"}, "transform": [{"filter": "datum.p === 'c' && datum.k === 'letterc'"}],
   "mark": {"type": "text", "font": "DejaVu Sans", "fontSize": 42, "color": "#111"},
   "encoding": {"x": {"field": "phi", "type": "quantitative", "axis": null}, "y": {"field": "pct", "type": "quantitative", "axis": null}, "text": {"field": "t"}}},
  {"data": {"name": "labels"}, "transform": [{"filter": "datum.p === 'c' && datum.k === 'lab'"}],
   "mark": {"type": "text", "font": "DejaVu Sans", "fontSize": 16, "color": "#111", "lineBreak": "\n", "lineHeight": 19},
   "encoding": {"x": {"field": "phi", "type": "quantitative", "axis": null}, "y": {"field": "pct", "type": "quantitative", "axis": null}, "text": {"field": "t"}}}
 ],
 "resolve": {"axis": {"x": "independent", "y": "independent"}}
},
{"width": 745, "height": 440,
 "layer": [
  {"data": {"name": "curves"}, "transform": [{"filter": "datum.p === 'd'"}],
   "mark": {"type": "line", "interpolate": "monotone", "strokeCap": "round", "color": "#111"},
   "encoding": {
    "x": {"field": "phi", "type": "quantitative", "scale": {"domain": [-4.321928, 6.643856], "nice": false, "zero": false},
     "axis": {"orient": "bottom", "values": [-4.321928, -3.321928, -2.321928, 0, 1, 3.321928, 4.321928, 6.643856], "labelExpr": "datum.value < -4 ? '20' : datum.value < -3 ? '10' : datum.value < -2 ? '5' : datum.value < 0.5 ? '1' : datum.value < 2 ? '·5' : datum.value < 4 ? '·1' : datum.value < 5 ? '·05' : '·01'", "title": "mm", "titleX": 362, "titleY": 40, "titleAlign": "center", "titleBaseline": "middle", "tickSize": 9, "labelPadding": 2, "labelFontSize": 16, "labelFlush": false, "labelOverlap": false, "grid": false}},
    "y": {"field": "pct", "type": "quantitative", "scale": {"domain": [0, 100], "nice": false},
     "axis": {"orient": "left", "values": [0,10,20,30,40,50,60,70,80,90,100], "labelExpr": "datum.value % 20 === 0 ? datum.label : ''", "title": "%", "titleAngle": 0, "titleX": -58, "titleY": 220, "titleAlign": "center", "titleBaseline": "middle", "tickSize": 10, "labelPadding": 3, "grid": false}},
    "strokeDash": {"field": "s", "type": "nominal", "legend": null, "scale": {"domain": ["DG2","DG3","DG4","DG5","DG6","DG9","DG10","DG11","DG12","DG13","DG14","DG15","DG16","DG17","DG19","DG21","DG22","DG24"], "range": [[1,0],[1,0],[12,6],[0.1,4],[10,4],[1,0],[5,4],[1,0],[7,4],[1,0],[1,0],[1,0],[1,0],[12,6],[1,0],[1,0],[5,4],[0.1,4.5]]}},
    "strokeWidth": {"field": "s", "type": "nominal", "legend": null, "scale": {"type": "ordinal", "domain": ["DG2","DG3","DG4","DG5","DG6","DG9","DG10","DG11","DG12","DG13","DG14","DG15","DG16","DG17","DG19","DG21","DG22","DG24"], "range": [1.3,1.3,2.2,1.8,1.3,1.7,1.2,1.3,1.3,1.3,1.3,1.3,1.3,2.2,1.3,1.3,1.2,1.8]}}
   }},
  {"data": {"name": "labels"}, "transform": [{"filter": "datum.p === 'd' && datum.k === 'title'"}],
   "mark": {"type": "text", "font": "DejaVu Sans", "fontSize": 32, "color": "#111"},
   "encoding": {
    "x": {"field": "phi", "type": "quantitative", "scale": {"domain": [-4.321928, 6.643856], "nice": false, "zero": false},
     "axis": {"orient": "top", "values": [-4,-3,-2,-1,0,1,2,3,4,5,6], "labelExpr": "datum.value < 0 ? '-' + abs(datum.value) : '' + datum.value", "title": "ø", "titleX": 358, "titleY": -48, "titleAlign": "center", "titleBaseline": "middle", "tickSize": 15, "labelPadding": 2, "labelFlush": false, "labelOverlap": false, "grid": false}},
    "y": {"field": "pct", "type": "quantitative", "scale": {"domain": [0, 100], "nice": false},
     "axis": {"orient": "right", "values": [0,10,20,30,40,50,60,70,80,90,100], "labels": false, "tickSize": -7, "title": null, "grid": false}},
    "text": {"field": "t"}
   }},
  {"data": {"name": "labels"}, "transform": [{"filter": "datum.p === 'd' && datum.k === 'letter'"}],
   "mark": {"type": "text", "font": "DejaVu Sans", "fontSize": 42, "fontStyle": "italic", "color": "#111"},
   "encoding": {"x": {"field": "phi", "type": "quantitative", "axis": null}, "y": {"field": "pct", "type": "quantitative", "axis": null}, "text": {"field": "t"}}},
  {"data": {"name": "labels"}, "transform": [{"filter": "datum.p === 'd' && datum.k === 'lab'"}],
   "mark": {"type": "text", "font": "DejaVu Sans", "fontSize": 17, "color": "#111"},
   "encoding": {"x": {"field": "phi", "type": "quantitative", "axis": null}, "y": {"field": "pct", "type": "quantitative", "axis": null}, "text": {"field": "t"}}}
 ],
 "resolve": {"axis": {"x": "independent", "y": "independent"}}
}
], "spacing": 49}
],
"spacing": 34,
"config": {
 "view": {"stroke": null},
 "axis": {"domainColor": "#111", "tickColor": "#111", "labelColor": "#111", "titleColor": "#111", "labelFont": "DejaVu Sans", "titleFont": "DejaVu Sans", "labelFontSize": 17, "titleFontSize": 16, "titleFontWeight": "normal", "domainWidth": 1.2, "tickWidth": 1}
}
}
